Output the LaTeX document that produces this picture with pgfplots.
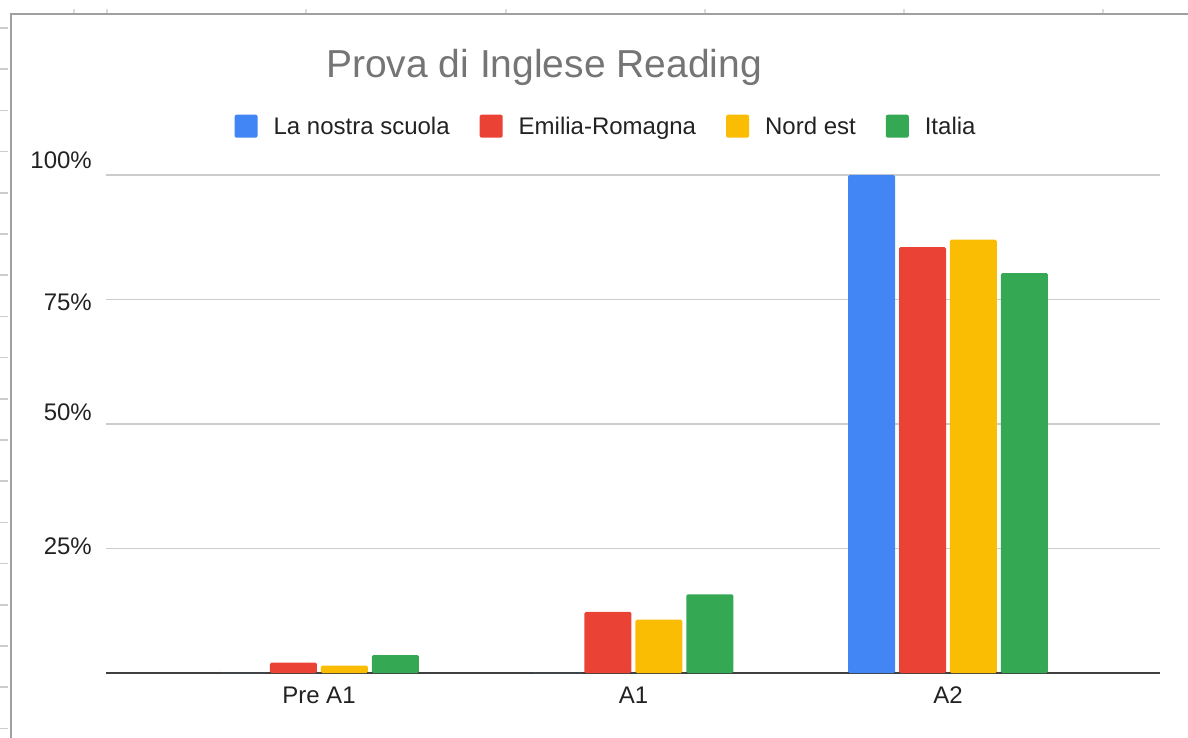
\documentclass[border=0pt]{standalone}
\usepackage{fontspec}
\setmainfont{Liberation Sans}
\usepackage{pgfplots}
\pgfplotsset{compat=1.18}
\definecolor{gblue}{HTML}{4285F4}
\definecolor{gred}{HTML}{EA4335}
\definecolor{gyellow}{HTML}{FBBC04}
\definecolor{ggreen}{HTML}{34A853}
\definecolor{txt}{HTML}{222222}
\definecolor{ttl}{HTML}{757575}
\definecolor{gridc}{HTML}{CCCCCC}
\definecolor{framec}{HTML}{A0A0A0}
\newcommand{\ylab}[2]{\smash{\raisebox{#1}{#2}}}
\begin{document}
\begin{tikzpicture}
\useasboundingbox (-106pt,-64pt) rectangle (1082pt,673pt);
\begin{axis}[
  at={(0pt,0pt)}, anchor=south west,
  scale only axis, width=1054pt, height=498pt,
  xmin=-0.677, xmax=2.674, ymin=0, ymax=100,
  ybar, bar width=0.1494,
  axis line style={draw=none},
  major tick length=0pt,
  xtick={0,1,2}, xticklabels={Pre A1,A1,A2},
  ytick={25,50,75,100},
  yticklabels={\ylab{-5.6pt}{25\%},\ylab{3.4pt}{50\%},\ylab{-10.6pt}{75\%},\ylab{6.4pt}{100\%}},
  ymajorgrids, grid style={gridc, line width=1.5pt},
  extra y ticks={0}, extra y tick labels={},
  extra y tick style={grid style={draw=black!75, line width=2pt}},
  tick label style={font=\fontsize{24}{28}\selectfont, text=txt, inner sep=0pt},
  yticklabel style={anchor=base east, xshift=-14pt},
  xticklabel style={anchor=north, yshift=-14pt},
  title={Prova di Inglese Reading},
  title style={at={(0.4156,1.1847)}, anchor=base, font=\fontsize{39}{44}\selectfont, text=ttl, inner sep=0pt},
  legend columns=4,
  legend image code/.code={\fill[#1, draw=none, rounded corners=2pt] (0pt,-11.5pt) rectangle (23pt,11.5pt);},
  legend style={at={(0.4735,1.098)}, anchor=center, draw=none, fill=none,
    font=\fontsize{24}{28}\selectfont, text=txt,
    nodes={inner sep=0pt},
    /tikz/every even column/.append style={column sep=30pt},
    /tikz/every odd column/.append style={column sep=16pt}},
  clip=false,
]
\addplot[fill=gblue, draw=none, bar shift=-0.243, rounded corners=1.5pt] coordinates {(0,0) (1,0) (2,100)};
\addplot[fill=gred, draw=none, bar shift=-0.081, rounded corners=1.5pt] coordinates {(0,2.1) (1,12.3) (2,85.5)};
\addplot[fill=gyellow, draw=none, bar shift=0.081, rounded corners=1.5pt] coordinates {(0,1.5) (1,10.7) (2,87.0)};
\addplot[fill=ggreen, draw=none, bar shift=0.243, rounded corners=1.5pt] coordinates {(0,3.6) (1,15.8) (2,80.3)};
\legend{La nostra scuola, Emilia-Romagna, Nord est, Italia}
\end{axis}
\draw[framec, line width=2pt] (-95pt,-70pt) -- (-95pt,659pt) -- (1090pt,659pt);
\foreach \k in {0,...,17} {
  \draw[gridc, line width=1.5pt] (-106pt,{645pt-41.2pt*\k}) -- (-98pt,{645pt-41.2pt*\k});
}
\foreach \x in {74,107,306,506,705,904,1103} {
  \draw[gridc!70, line width=1.5pt] ({(\x-106)*1pt},660pt) -- ({(\x-106)*1pt},664pt);
}
\end{tikzpicture}
\end{document}
